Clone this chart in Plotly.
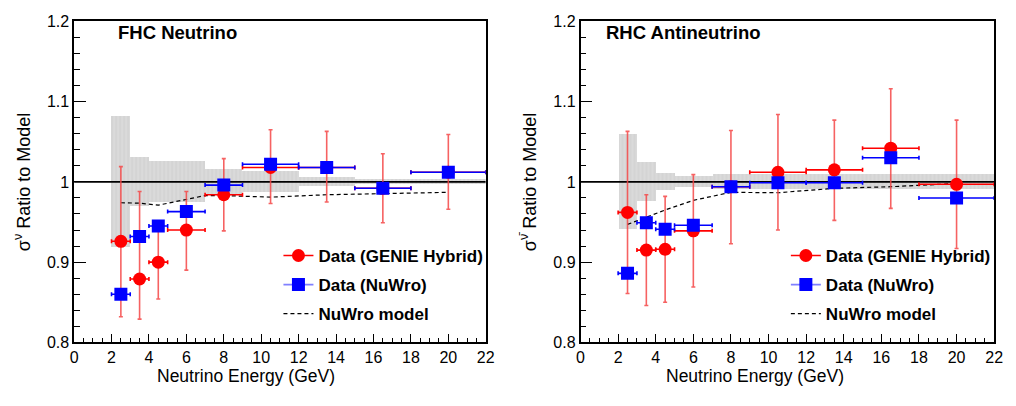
import plotly.graph_objects as go

# ---------------- data ----------------
bin_edges = [2, 3, 4, 5, 7, 9, 12, 15, 18, 22]
energy = [2.5, 3.5, 4.5, 6, 8, 10.5, 13.5, 16.5, 20]

# FHC neutrino
fhc_genie = [0.926, 0.879, 0.900, 0.940, 0.984, 1.018, 1.018, 0.992, 1.012]
fhc_genie_up = [1.019, 0.988, 0.946, 0.988, 1.029, 1.065, 1.063, 1.035, 1.059]
fhc_genie_dn = [0.832, 0.829, 0.854, 0.890, 0.939, 0.973, 0.975, 0.949, 0.966]
fhc_nuwro = [0.860, 0.932, 0.945, 0.963, 0.996, 1.022, 1.018, 0.992, 1.012]
fhc_band = [0.082, 0.031, 0.025, 0.025, 0.015, 0.013, 0.005, 0.003, 0.003]
fhc_model_x = [2.5, 3.5, 4.5, 6, 7, 8, 10.5, 13.5, 16.5, 20]
fhc_model = [0.974, 0.9735, 0.971, 0.978, 0.983, 0.983, 0.981, 0.984, 0.985, 0.987]

# RHC antineutrino
rhc_genie = [0.962, 0.915, 0.916, 0.939, 0.994, 1.012, 1.015, 1.042, 0.997]
rhc_genie_up = [1.063, 0.984, 0.982, 1.009, 1.064, 1.084, 1.077, 1.116, 1.077]
rhc_genie_dn = [0.861, 0.846, 0.850, 0.869, 0.923, 0.940, 0.952, 0.967, 0.917]
rhc_nuwro = [0.886, 0.949, 0.941, 0.946, 0.994, 0.999, 0.999, 1.030, 0.980]
rhc_band = [0.059, 0.024, 0.011, 0.007, 0.009, 0.009, 0.009, 0.009, 0.009]
rhc_model_x = [2.5, 3.5, 4.5, 6, 8, 10.5, 13.5, 16.5, 20]
rhc_model = [0.947, 0.956, 0.965, 0.977, 0.987, 0.9865, 0.992, 0.994, 0.998]

x_ticks = [0, 2, 4, 6, 8, 10, 12, 14, 16, 18, 20, 22]
y_ticks = [0.8, 0.9, 1.0, 1.1, 1.2]

# ---------------- derived ----------------
bin_lo = bin_edges[:-1]
bin_hi = bin_edges[1:]
bin_c = [(a + b) / 2 for a, b in zip(bin_lo, bin_hi)]
bin_w = [b - a for a, b in zip(bin_lo, bin_hi)]
xerr_plus = [h - e for h, e in zip(bin_hi, energy)]
xerr_minus = [e - l for l, e in zip(bin_lo, energy)]

RED = "#ff0000"
BLUE = "#0000ff"
FONT = "Liberation Sans, Arial, sans-serif"

fig = go.Figure()


def add_panel(xa, ya, leg, genie, up, dn, nuwro, band, mx, my):
    # systematic band
    fig.add_trace(go.Bar(
        x=bin_c, width=bin_w, y=[2 * b for b in band], base=[1 - b for b in band],
        marker=dict(color="#dadada", line=dict(width=0),
                    pattern=dict(shape="|", fgcolor="#c4c4c4", bgcolor="#dadada", size=4, solidity=0.25)),
        xaxis=xa, yaxis=ya, showlegend=False, hoverinfo="skip"))
    # unity line
    fig.add_trace(go.Scatter(x=[0, 22], y=[1, 1], mode="lines",
                             line=dict(color="black", width=1.6),
                             xaxis=xa, yaxis=ya, showlegend=False, hoverinfo="skip"))
    # model
    fig.add_trace(go.Scatter(x=mx, y=my, mode="lines",
                             line=dict(color="black", width=1.2, dash="4px,3px"),
                             xaxis=xa, yaxis=ya, showlegend=False))
    # GENIE hybrid data
    fig.add_trace(go.Scatter(
        x=energy, y=genie, mode="markers",
        marker=dict(symbol="circle", size=13, color=RED),
        error_y=dict(type="data", symmetric=False,
                     array=[u - g for u, g in zip(up, genie)],
                     arrayminus=[g - d for g, d in zip(genie, dn)],
                     color="rgba(245,70,70,0.85)", thickness=1.6, width=2),
        error_x=dict(type="data", symmetric=False, array=xerr_plus, arrayminus=xerr_minus,
                     color=RED, thickness=1.6, width=2),
        xaxis=xa, yaxis=ya, showlegend=False))
    # NuWro data
    fig.add_trace(go.Scatter(
        x=energy, y=nuwro, mode="markers",
        marker=dict(symbol="square", size=13, color=BLUE),
        error_x=dict(type="data", symmetric=False, array=xerr_plus, arrayminus=xerr_minus,
                     color=BLUE, thickness=1.6, width=2),
        xaxis=xa, yaxis=ya, showlegend=False))
    # legend entries
    fig.add_trace(go.Scatter(x=[None], y=[None], mode="lines+markers", name="Data (GENIE Hybrid)",
                             marker=dict(symbol="circle", size=13, color=RED),
                             line=dict(color=RED, width=1.6), legend=leg, legendgroup=leg + "a",
                             xaxis=xa, yaxis=ya))
    fig.add_trace(go.Scatter(x=[None], y=[None], mode="lines+markers", name="Data (NuWro)",
                             marker=dict(symbol="square", size=13, color=BLUE),
                             line=dict(color="#8080ff", width=1.6), legend=leg, legendgroup=leg + "b",
                             xaxis=xa, yaxis=ya))
    fig.add_trace(go.Scatter(x=[None], y=[None], mode="lines", name="NuWro model",
                             line=dict(color="black", width=1.2, dash="4px,3px"),
                             legend=leg, legendgroup=leg + "c", xaxis=xa, yaxis=ya))


add_panel("x", "y", "legend", fhc_genie, fhc_genie_up, fhc_genie_dn, fhc_nuwro, fhc_band,
          fhc_model_x, fhc_model)
add_panel("x2", "y2", "legend2", rhc_genie, rhc_genie_up, rhc_genie_dn, rhc_nuwro, rhc_band,
          rhc_model_x, rhc_model)

H = 406.0
W = 1016.0
ydom = [1 - 349 / H, 1 - 14 / H]

xaxis_common = dict(range=[0, 22], tickvals=x_ticks, ticks="inside", ticklen=9, tickwidth=1,
                    tickcolor="black", showline=True, linecolor="black", linewidth=1.5,
                    mirror=True, showgrid=False, zeroline=False,
                    minor=dict(dtick=0.5, tick0=0, ticks="inside", ticklen=5, tickcolor="black"),
                    tickfont=dict(family=FONT, size=16, color="black"))
yaxis_common = dict(range=[0.8, 1.2], tickvals=y_ticks, ticktext=["0.8", "0.9", "1", "1.1", "1.2"],
                    ticks="inside", ticklen=12, tickwidth=1, tickcolor="black",
                    showline=True, linecolor="black", linewidth=1.5, mirror=True,
                    showgrid=False, zeroline=False,
                    minor=dict(dtick=0.02, tick0=0.8, ticks="inside", ticklen=6, tickcolor="black"),
                    tickfont=dict(family=FONT, size=16, color="black"))

legend_common = dict(font=dict(family=FONT, size=17, color="black", weight="bold"),
                     bgcolor="rgba(0,0,0,0)", borderwidth=0, tracegroupgap=4,
                     xanchor="left", yanchor="top", itemwidth=30)

fig.update_layout(
    width=1016, height=406,
    margin=dict(l=0, r=0, t=0, b=0),
    paper_bgcolor="white", plot_bgcolor="white",
    barmode="overlay", bargap=0,
    xaxis=dict(domain=[71 / W, 488 / W], anchor="y", **xaxis_common),
    yaxis=dict(domain=ydom, anchor="x", **yaxis_common,
               title=dict(text="σ<sup>ν</sup> Ratio to Model", standoff=12,
                          font=dict(family=FONT, size=18, color="black"))),
    xaxis2=dict(domain=[584 / W, 1003 / W], anchor="y2", **xaxis_common),
    yaxis2=dict(domain=ydom, anchor="x2", **yaxis_common,
                title=dict(text="σ<sup>ν\u0304</sup> Ratio to Model", standoff=12,
                           font=dict(family=FONT, size=18, color="black"))),
    legend=dict(x=278 / W, y=1 - 240 / H, **legend_common),
    legend2=dict(x=792 / W, y=1 - 240 / H, **legend_common),
    annotations=[
        dict(text="<b>FHC Neutrino</b>", x=113 / W, y=1 - 26 / H, xref="paper", yref="paper",
             xanchor="left", yanchor="middle", showarrow=False,
             font=dict(family=FONT, size=18.5, color="black")),
        dict(text="<b>RHC Antineutrino</b>", x=608 / W, y=1 - 26 / H, xref="paper", yref="paper",
             xanchor="left", yanchor="middle", showarrow=False,
             font=dict(family=FONT, size=18.5, color="black")),
        dict(text="Neutrino Energy (GeV)", x=245 / W, y=1 - 384 / H, xref="paper", yref="paper",
             xanchor="center", yanchor="middle", showarrow=False,
             font=dict(family=FONT, size=17.5, color="black")),
        dict(text="Neutrino Energy (GeV)", x=761 / W, y=1 - 384 / H, xref="paper", yref="paper",
             xanchor="center", yanchor="middle", showarrow=False,
             font=dict(family=FONT, size=17.5, color="black")),
    ],
)

fig.write_html("out.html")
